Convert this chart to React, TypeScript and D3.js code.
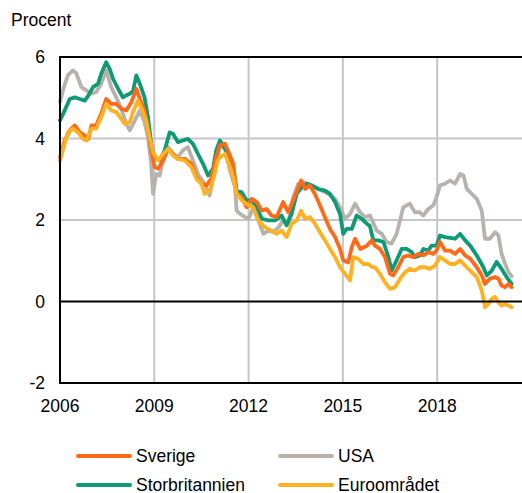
import React from 'react';
import * as d3 from 'd3';

// [decimal year, percent]
const sverige: [number, number][] = [
  [2006.0, 3.54], [2006.15, 3.95], [2006.31, 4.2], [2006.47, 4.32], [2006.63, 4.15], [2006.79, 4.07], [2006.9, 3.99],
  [2007.0, 4.32], [2007.15, 4.32], [2007.31, 4.61], [2007.47, 4.97], [2007.63, 4.85], [2007.79, 4.85], [2007.95, 4.73],
  [2008.11, 4.69], [2008.27, 4.89], [2008.43, 5.22], [2008.54, 4.97], [2008.69, 4.69], [2008.8, 4.2], [2008.9, 3.71],
  [2009.01, 3.3], [2009.12, 3.26], [2009.28, 3.46], [2009.44, 3.75], [2009.6, 3.62], [2009.75, 3.5], [2009.97, 3.5],
  [2010.18, 3.38], [2010.34, 3.05], [2010.5, 2.89], [2010.66, 2.85], [2010.81, 3.01], [2010.97, 3.54],
  [2011.09, 3.83], [2011.25, 3.87], [2011.41, 3.58], [2011.51, 3.38], [2011.62, 2.64], [2011.78, 2.56], [2011.94, 2.31],
  [2012.1, 2.52], [2012.26, 2.44], [2012.42, 2.23], [2012.57, 2.27], [2012.73, 2.11], [2012.89, 2.07],
  [2013.1, 2.44], [2013.26, 2.19], [2013.48, 2.6], [2013.67, 2.97], [2013.8, 2.76], [2013.95, 2.85],
  [2014.11, 2.64], [2014.27, 2.36], [2014.43, 2.07], [2014.59, 1.78], [2014.75, 1.58], [2014.91, 1.29],
  [2015.01, 1.01], [2015.17, 0.96], [2015.28, 1.33], [2015.39, 1.54], [2015.55, 1.29], [2015.76, 1.37], [2015.92, 1.5],
  [2016.02, 1.37], [2016.18, 1.29], [2016.34, 1.09], [2016.5, 0.68], [2016.6, 0.64], [2016.76, 0.84], [2016.92, 1.09],
  [2017.08, 1.13], [2017.24, 1.09], [2017.4, 1.17], [2017.56, 1.13], [2017.72, 1.21], [2017.88, 1.17], [2017.98, 1.25],
  [2018.09, 1.46], [2018.25, 1.25], [2018.41, 1.25], [2018.57, 1.17], [2018.73, 1.29], [2018.89, 1.13],
  [2019.05, 1.05], [2019.26, 0.84], [2019.42, 0.64], [2019.52, 0.43], [2019.68, 0.56], [2019.84, 0.6], [2019.95, 0.56],
  [2020.05, 0.39], [2020.16, 0.35], [2020.27, 0.43], [2020.37, 0.35],
];

const usa: [number, number][] = [
  [2006.0, 4.9], [2006.12, 5.25], [2006.25, 5.55], [2006.41, 5.67], [2006.52, 5.6], [2006.68, 5.26], [2006.84, 5.18],
  [2007.0, 5.1], [2007.15, 5.14], [2007.31, 5.34], [2007.47, 5.67], [2007.63, 5.26], [2007.79, 5.01], [2007.95, 4.73],
  [2008.11, 4.36], [2008.22, 4.2], [2008.38, 4.44], [2008.54, 4.69], [2008.69, 4.4], [2008.8, 4.03], [2008.9, 3.38],
  [2008.96, 2.64], [2009.06, 3.13], [2009.17, 3.09], [2009.28, 3.46], [2009.44, 3.79], [2009.6, 3.62], [2009.75, 3.54],
  [2009.91, 3.71], [2010.07, 3.79], [2010.23, 3.46], [2010.39, 3.13], [2010.6, 2.89], [2010.76, 2.6], [2010.92, 3.2],
  [2011.09, 3.85], [2011.25, 3.75], [2011.41, 3.21], [2011.57, 2.8], [2011.62, 2.23], [2011.73, 2.15], [2011.89, 2.07],
  [2012.0, 2.03], [2012.15, 2.31], [2012.31, 1.99], [2012.47, 1.66], [2012.63, 1.74], [2012.79, 1.7], [2012.95, 1.82],
  [2013.1, 1.99], [2013.26, 1.91], [2013.42, 2.56], [2013.58, 2.89], [2013.74, 2.93], [2013.9, 2.89],
  [2014.11, 2.8], [2014.33, 2.72], [2014.54, 2.64], [2014.75, 2.52], [2014.91, 2.31],
  [2015.07, 2.03], [2015.23, 2.15], [2015.39, 2.4], [2015.55, 2.19], [2015.7, 2.07], [2015.86, 2.11],
  [2016.08, 1.74], [2016.24, 1.66], [2016.39, 1.46], [2016.55, 1.42], [2016.71, 1.66], [2016.87, 2.15], [2016.92, 2.31],
  [2017.13, 2.4], [2017.29, 2.19], [2017.45, 2.19], [2017.56, 2.11], [2017.72, 2.27], [2017.88, 2.36], [2017.98, 2.56],
  [2018.09, 2.85], [2018.25, 2.89], [2018.41, 2.97], [2018.57, 2.89], [2018.73, 3.13], [2018.84, 3.09], [2018.94, 2.77],
  [2019.1, 2.64], [2019.26, 2.52], [2019.42, 2.23], [2019.52, 1.54], [2019.68, 1.54], [2019.84, 1.7], [2019.95, 1.62],
  [2020.05, 1.17], [2020.16, 0.93], [2020.27, 0.72], [2020.37, 0.62],
];

const storbritannien: [number, number][] = [
  [2006.0, 4.44], [2006.15, 4.69], [2006.31, 4.97], [2006.47, 5.01], [2006.63, 4.97], [2006.79, 4.93], [2006.94, 5.1],
  [2007.05, 5.26], [2007.21, 5.34], [2007.31, 5.59], [2007.47, 5.87], [2007.58, 5.71], [2007.69, 5.46], [2007.85, 5.22],
  [2008.0, 5.01], [2008.11, 5.06], [2008.22, 5.1], [2008.32, 5.15], [2008.43, 5.55], [2008.54, 5.34], [2008.69, 5.01],
  [2008.8, 4.52], [2008.9, 3.87], [2009.01, 3.54], [2009.17, 3.46], [2009.33, 3.71], [2009.49, 4.15], [2009.6, 4.11],
  [2009.75, 3.91], [2009.91, 3.95], [2010.07, 3.99], [2010.23, 3.87], [2010.39, 3.62], [2010.55, 3.38], [2010.71, 3.09],
  [2010.87, 3.26], [2010.97, 3.71], [2011.09, 3.95], [2011.25, 3.75], [2011.41, 3.54], [2011.51, 3.3], [2011.62, 2.72],
  [2011.78, 2.68], [2011.94, 2.48], [2012.1, 2.48], [2012.26, 2.31], [2012.42, 2.03], [2012.63, 1.99], [2012.84, 1.99],
  [2013.05, 2.11], [2013.21, 1.87], [2013.37, 2.15], [2013.53, 2.64], [2013.69, 2.8], [2013.85, 2.89],
  [2014.01, 2.85], [2014.22, 2.76], [2014.43, 2.72], [2014.59, 2.64], [2014.75, 2.44], [2014.91, 2.15],
  [2015.01, 1.66], [2015.12, 1.78], [2015.28, 1.78], [2015.44, 2.11], [2015.6, 2.03], [2015.76, 1.91], [2015.86, 1.85],
  [2015.97, 1.5], [2016.13, 1.5], [2016.29, 1.46], [2016.45, 1.09], [2016.55, 0.76], [2016.71, 1.01], [2016.87, 1.29],
  [2017.03, 1.29], [2017.19, 1.21], [2017.29, 1.09], [2017.45, 1.13], [2017.56, 1.29], [2017.72, 1.25], [2017.82, 1.37],
  [2017.98, 1.37], [2018.09, 1.62], [2018.25, 1.58], [2018.41, 1.56], [2018.57, 1.54], [2018.73, 1.66], [2018.89, 1.5],
  [2019.05, 1.37], [2019.26, 1.13], [2019.47, 0.84], [2019.58, 0.64], [2019.74, 0.76], [2019.89, 0.97],
  [2020.05, 0.8], [2020.21, 0.6], [2020.37, 0.43],
];

const euroomradet: [number, number][] = [
  [2006.0, 3.46], [2006.15, 3.87], [2006.25, 4.15], [2006.41, 4.24], [2006.57, 4.15], [2006.73, 3.99], [2006.84, 3.95],
  [2007.0, 4.24], [2007.15, 4.24], [2007.31, 4.52], [2007.47, 4.85], [2007.63, 4.69], [2007.79, 4.65], [2007.95, 4.48],
  [2008.06, 4.36], [2008.22, 4.4], [2008.32, 4.65], [2008.48, 4.93], [2008.58, 4.77], [2008.74, 4.44], [2008.85, 4.03],
  [2008.96, 3.66], [2009.12, 3.46], [2009.28, 3.62], [2009.44, 3.75], [2009.6, 3.58], [2009.75, 3.5], [2009.97, 3.46],
  [2010.18, 3.3], [2010.34, 3.01], [2010.5, 2.89], [2010.6, 2.64], [2010.76, 2.72], [2010.92, 3.13], [2011.02, 3.46],
  [2011.09, 3.54], [2011.25, 3.62], [2011.41, 3.3], [2011.51, 3.05], [2011.62, 2.64], [2011.78, 2.48],
  [2012.0, 2.36], [2012.15, 2.31], [2012.31, 1.99], [2012.52, 1.82], [2012.73, 1.74], [2012.89, 1.66],
  [2013.05, 1.74], [2013.21, 1.58], [2013.37, 1.91], [2013.53, 1.99], [2013.67, 2.23], [2013.8, 2.03], [2013.95, 2.07],
  [2014.11, 1.91], [2014.27, 1.7], [2014.43, 1.5], [2014.59, 1.29], [2014.75, 1.09], [2014.91, 0.84],
  [2015.07, 0.68], [2015.23, 0.52], [2015.33, 1.09], [2015.49, 1.05], [2015.65, 0.92], [2015.81, 0.92], [2015.92, 0.85],
  [2016.02, 0.84], [2016.18, 0.68], [2016.34, 0.47], [2016.5, 0.31], [2016.66, 0.35], [2016.82, 0.56], [2016.98, 0.72],
  [2017.13, 0.8], [2017.29, 0.76], [2017.45, 0.84], [2017.61, 0.84], [2017.77, 0.8], [2017.93, 0.88],
  [2018.09, 1.09], [2018.25, 1.01], [2018.41, 0.92], [2018.57, 0.92], [2018.73, 1.01], [2018.89, 0.88],
  [2019.05, 0.76], [2019.26, 0.6], [2019.42, 0.27], [2019.52, -0.14], [2019.63, -0.06], [2019.74, 0.07], [2019.84, 0.11],
  [2019.95, -0.02], [2020.05, -0.1], [2020.16, -0.06], [2020.27, -0.1], [2020.37, -0.14],
];

const yTicks = [-2, 0, 2, 4, 6];
const xTicks = [2006, 2009, 2012, 2015, 2018];

const series = [
  { name: 'USA', color: '#b8b2ad', data: usa },
  { name: 'Storbritannien', color: '#0d9a74', data: storbritannien },
  { name: 'Sverige', color: '#ff6a1a', data: sverige },
  { name: 'Euroområdet', color: '#ffb221', data: euroomradet },
];

const legend = [
  { name: 'Sverige', color: '#ff6a1a' },
  { name: 'USA', color: '#b8b2ad' },
  { name: 'Storbritannien', color: '#0d9a74' },
  { name: 'Euroområdet', color: '#ffb221' },
];

const W = 522;
const H = 493;
const font = '"Liberation Sans", Arial, sans-serif';
const fs = 17.5;

export default function App() {
  const x = d3.scaleLinear().domain([2006, 2021]).range([60, 60 + 31.43 * 15]);
  const y = d3.scaleLinear().domain([-2, 6]).range([383, 57]);
  const line = d3
    .line<[number, number]>()
    .x((d) => x(d[0]))
    .y((d) => y(d[1]));

  return (
    <svg
      width={W}
      height={H}
      style={{ position: 'absolute', left: 0, top: 0, background: '#fff' }}
      fontFamily={font}
    >
      <text x={11} y={26} fontSize={fs} fill="#000">Procent</text>

      {/* gridlines */}
      {yTicks.filter((t) => t === 2 || t === 4).map((t) => (
        <line key={'gy' + t} x1={x(2006)} x2={W} y1={y(t)} y2={y(t)} stroke="#c6c6c6" strokeWidth={2} />
      ))}
      {xTicks.filter((t) => t !== 2006).map((t) => (
        <line key={'gx' + t} x1={x(t)} x2={x(t)} y1={y(6)} y2={y(-2)} stroke="#c6c6c6" strokeWidth={2} />
      ))}

      {/* lines */}
      {series.map((s) => (
        <path
          key={s.name}
          d={line(s.data) || ''}
          fill="none"
          stroke={s.color}
          strokeWidth={3.8}
          strokeLinejoin="round"
          strokeLinecap="round"
        />
      ))}

      {/* frame */}
      <line x1={x(2006)} x2={W} y1={y(6)} y2={y(6)} stroke="#000" strokeWidth={2} />
      <line x1={x(2006)} x2={W} y1={y(-2)} y2={y(-2)} stroke="#000" strokeWidth={2} />
      <line x1={x(2006)} x2={W} y1={y(0)} y2={y(0)} stroke="#000" strokeWidth={2} />
      <line x1={x(2006)} x2={x(2006)} y1={y(6) - 1} y2={y(-2) + 1} stroke="#000" strokeWidth={2} />

      {yTicks.map((t) => (
        <text key={'ty' + t} x={45} y={y(t)} dy="0.35em" textAnchor="end" fontSize={fs} fill="#000">
          {t}
        </text>
      ))}
      {xTicks.map((t) => (
        <text key={'tx' + t} x={x(t)} y={412} textAnchor="middle" fontSize={fs} fill="#000">
          {t}
        </text>
      ))}

      {legend.map((l, i) => {
        const lx = i % 2 === 0 ? 78 : 280;
        const ly = i < 2 ? 456 : 485;
        return (
          <g key={l.name}>
            <line x1={lx} x2={lx + 52} y1={ly} y2={ly} stroke={l.color} strokeWidth={4} strokeLinecap="round" />
            <text x={lx + 58} y={ly + 5.5} fontSize={fs} fill="#000">{l.name}</text>
          </g>
        );
      })}
    </svg>
  );
}
